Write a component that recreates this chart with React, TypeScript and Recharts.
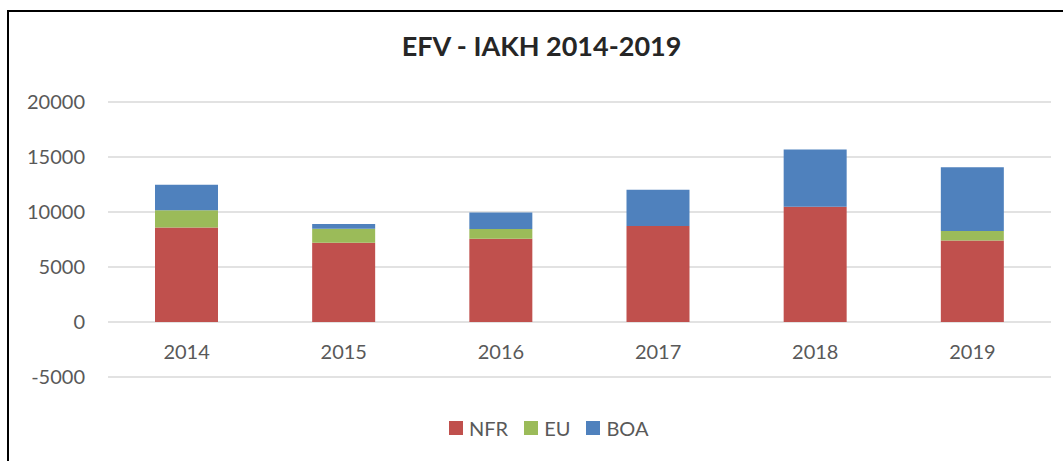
import React from 'react';
import { BarChart, Bar, XAxis, YAxis, CartesianGrid } from 'recharts';

const years = ['2014', '2015', '2016', '2017', '2018', '2019'];
const nfr = [8600, 7200, 7570, 8730, 10470, 7410];
const eu = [1555, 1280, 880, 0, 0, 860];
const boa = [2325, 430, 1500, 3290, 5210, 5790];
const yTicks = [-5000, 0, 5000, 10000, 15000, 20000];

const series = [
  { key: 'NFR', color: '#c0504d' },
  { key: 'EU', color: '#9bbb59' },
  { key: 'BOA', color: '#4f81bd' },
];

const data = years.map((year, i) => ({
  year,
  NFR: nfr[i],
  EU: eu[i],
  BOA: boa[i],
}));

const FONT = 'Lato, "Open Sans", sans-serif';
const GREY = '#595959';

const YearTick = ({ x, y, payload }: any) => (
  <text x={x} y={y - 18} textAnchor="middle" fill={GREY} fontSize={20} fontFamily={FONT}>
    {payload.value}
  </text>
);

export default function App() {
  return (
    <div style={{ position: 'absolute', left: 0, top: 0, width: 1063, height: 461, background: '#fff', overflow: 'hidden' }}>
      <div
        style={{
          position: 'absolute',
          left: 7,
          top: 10,
          width: 1070,
          height: 470,
          borderLeft: '2px solid #000',
          borderTop: '2px solid #000',
        }}
      />
      <div
        style={{
          position: 'absolute',
          left: 0,
          width: 1083,
          top: 29,
          textAlign: 'center',
          fontFamily: FONT,
          fontWeight: 700,
          fontSize: 27,
          color: '#262626',
        }}
      >
        EFV - IAKH 2014-2019
      </div>
      <div style={{ position: 'absolute', left: 0, top: 0 }}>
        <BarChart
          width={1063}
          height={461}
          data={data}
          margin={{ top: 102, right: 12, left: 8, bottom: 83 }}
          barSize={63}
        >
          <CartesianGrid vertical={false} stroke="#d9d9d9" strokeWidth={1.5} />
          <XAxis
            dataKey="year"
            axisLine={false}
            tickLine={false}
            tickSize={0}
            tickMargin={0}
            tick={<YearTick />}
            height={1}
          />
          <YAxis
            type="number"
            domain={[-5000, 20000]}
            ticks={yTicks}
            axisLine={false}
            tickLine={false}
            tickSize={0}
            tickMargin={23}
            width={100}
            tick={{ fill: GREY, fontSize: 20, fontFamily: FONT }}
          />
          {series.map((s) => (
            <Bar key={s.key} dataKey={s.key} stackId="a" fill={s.color} isAnimationActive={false} />
          ))}
        </BarChart>
      </div>
      <div
        style={{
          position: 'absolute',
          left: 449,
          top: 416,
          display: 'flex',
          alignItems: 'center',
          fontFamily: FONT,
          fontSize: 20,
          color: GREY,
        }}
      >
        {series.map((s) => (
          <div key={s.key} style={{ display: 'flex', alignItems: 'center', marginRight: 16 }}>
            <span style={{ display: 'inline-block', width: 14, height: 14, background: s.color, marginRight: 6 }} />
            <span>{s.key}</span>
          </div>
        ))}
      </div>
    </div>
  );
}
